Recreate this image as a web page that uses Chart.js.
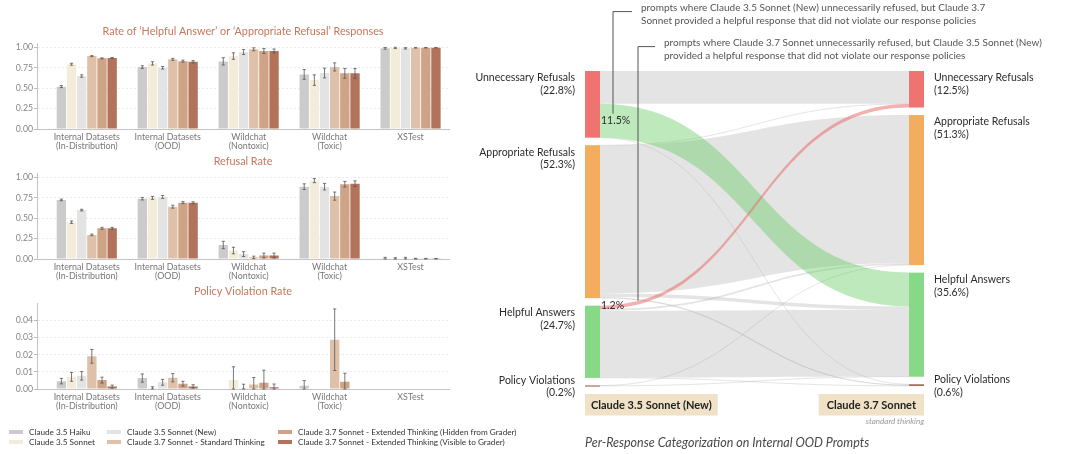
<!DOCTYPE html>
<html>
<head>
<meta charset="utf-8">
<script src="https://cdn.jsdelivr.net/npm/chart.js@4.4.1/dist/chart.umd.min.js"></script>
<style>
  body { margin: 0; background: #fff; width: 1080px; height: 454px; overflow: hidden; position: relative; font-family: Lato, sans-serif; }
  canvas { position: absolute; }
  .item { position: absolute; white-space: nowrap; font-size: 8.2px; color: #333; line-height: 10px; }
  .sw { display: inline-block; width: 14px; height: 4px; margin-right: 6px; vertical-align: 1px; }
</style>
</head>
<body>
<canvas id="helpfulChart" width="470" height="135" style="left:0;top:20px"></canvas>
<canvas id="refusalChart" width="470" height="135" style="left:0;top:150px"></canvas>
<canvas id="violationChart" width="470" height="135" style="left:0;top:280px"></canvas>
<div id="legend"></div>
<canvas id="sankeyChart" width="610" height="454" style="left:470px;top:0"></canvas>

<script>
const FONT = 'Lato, sans-serif';

const categories = [['Internal Datasets', '(In-Distribution)'], ['Internal Datasets', '(OOD)'], ['Wildchat', '(Nontoxic)'], ['Wildchat', '(Toxic)'], 'XSTest'];
const models = ['Claude 3.5 Haiku', 'Claude 3.5 Sonnet', 'Claude 3.5 Sonnet (New)', 'Claude 3.7 Sonnet - Standard Thinking',
  'Claude 3.7 Sonnet - Extended Thinking (Hidden from Grader)', 'Claude 3.7 Sonnet - Extended Thinking (Visible to Grader)'];
const modelColors = ['#cbcbcb', '#f4ecdb', '#e3e3e3', '#dfc1aa', '#cea386', '#b3735b'];

// rate of helpful answer or appropriate refusal, one array per model
const helpfulHaiku = [0.52, 0.76, 0.83, 0.67, 0.99];
const helpfulSonnet = [0.795, 0.805, 0.895, 0.60, 0.995];
const helpfulSonnetNew = [0.65, 0.752, 0.945, 0.687, 0.99];
const helpfulStandard = [0.895, 0.855, 0.978, 0.762, 0.997];
const helpfulHidden = [0.867, 0.833, 0.957, 0.683, 0.998];
const helpfulVisible = [0.872, 0.825, 0.957, 0.683, 0.998];
const helpfulErr = [[0.012, 0.016, 0.045, 0.06, 0.01], [0.012, 0.02, 0.04, 0.065, 0.008], [0.015, 0.016, 0.03, 0.06, 0.008],
  [0.006, 0.012, 0.018, 0.05, 0.004], [0.006, 0.012, 0.03, 0.06, 0.003], [0.006, 0.014, 0.025, 0.06, 0.003]];

// refusal rate
const refusalHaiku = [0.725, 0.74, 0.172, 0.888, 0.01];
const refusalSonnet = [0.452, 0.75, 0.104, 0.962, 0.008];
const refusalSonnetNew = [0.60, 0.762, 0.06, 0.888, 0.01];
const refusalStandard = [0.296, 0.642, 0.02, 0.772, 0.004];
const refusalHidden = [0.377, 0.692, 0.042, 0.918, 0.004];
const refusalVisible = [0.377, 0.69, 0.042, 0.924, 0.004];
const refusalErr = [[0.01, 0.015, 0.045, 0.035, 0.01], [0.015, 0.018, 0.04, 0.025, 0.008], [0.01, 0.018, 0.03, 0.04, 0.01],
  [0.01, 0.018, 0.015, 0.05, 0.004], [0.012, 0.012, 0.03, 0.035, 0.003], [0.012, 0.012, 0.03, 0.035, 0.003]];

// policy violation rate
const violationHaiku = [0.0046, 0.0064, 0, 0.0019, 0];
const violationSonnet = [0.0071, 0.0004, 0.0053, 0, 0];
const violationSonnetNew = [0.0077, 0.0039, 0.0008, 0, 0];
const violationStandard = [0.0191, 0.0066, 0.0027, 0.0288, 0];
const violationHidden = [0.0052, 0.0031, 0.0036, 0.0042, 0];
const violationVisible = [0.0014, 0.0015, 0.001, 0, 0];
const violationErr = [[0.0016, 0.0024, 0, 0.003, 0], [0.0026, 0.0009, 0.0077, 0, 0], [0.0025, 0.0017, 0.002, 0, 0],
  [0.004, 0.0024, 0.004, 0.018, 0], [0.0017, 0.0014, 0.0074, 0.005, 0], [0.0009, 0.001, 0.0019, 0, 0]];

const rateTicks = [0, 0.25, 0.5, 0.75, 1.0];
const violationTicks = [0, 0.01, 0.02, 0.03, 0.04];

// sankey: Claude 3.5 Sonnet (New) -> Claude 3.7 Sonnet, share of prompts in %
const stageNames = ['Claude 3.5 Sonnet (New)', 'Claude 3.7 Sonnet'];
const responseTypes = ['Unnecessary Refusals', 'Appropriate Refusals', 'Helpful Answers', 'Policy Violations'];
const sourceShares = [22.8, 52.3, 24.7, 0.2];
const targetShares = [12.5, 51.3, 35.6, 0.6];
const flowUnnecessary = [11.2, 0, 11.5, 0.1];
const flowAppropriate = [0.1, 50.6, 1.2, 0.4];
const flowHelpful = [1.2, 0.6, 22.8, 0.1];
const flowViolation = [0, 0.1, 0.1, 0];
const flowLabels = [{ from: 0, to: 2, text: '11.5%' }, { from: 2, to: 0, text: '1.2%' }];

const errorBars = {
    id: 'errorBars',
    afterDatasetsDraw(chart) {
        const ctx = chart.ctx, y = chart.scales.y;
        ctx.save();
        ctx.strokeStyle = '#555';
        ctx.lineWidth = 0.8;
        chart.data.datasets.forEach((ds, i) => {
            chart.getDatasetMeta(i).data.forEach((bar, j) => {
                const e = ds.errors[j];
                if (!e) return;
                const v = ds.data[j].y;
                const top = y.getPixelForValue(v + e);
                const bot = y.getPixelForValue(Math.max(0, v - e));
                ctx.beginPath();
                ctx.moveTo(bar.x, top); ctx.lineTo(bar.x, bot);
                ctx.moveTo(bar.x - 1.6, top); ctx.lineTo(bar.x + 1.6, top);
                ctx.moveTo(bar.x - 1.6, bot); ctx.lineTo(bar.x + 1.6, bot);
                ctx.stroke();
            });
        });
        ctx.restore();
    }
};

function initRateChart(id, title, values, errors, yMax, ticks) {
    const datasets = models.map((m, i) => ({
        label: m,
        data: values[i].map((v, j) => ({ x: j, y: v })),
        errors: errors[i],
        backgroundColor: modelColors[i],
        categoryPercentage: 0.753,
        barPercentage: 0.92
    }));

    new Chart(document.getElementById(id), {
        type: 'bar',
        data: { datasets: datasets },
        options: {
            responsive: false,
            animation: false,
            layout: { padding: { left: 0, right: 21, top: 0, bottom: 0 } },
            plugins: {
                legend: { display: false },
                tooltip: { enabled: false },
                title: {
                    display: true, text: title, color: '#c5785c', fullSize: false,
                    font: { family: FONT, size: 10.8, weight: 'normal' },
                    padding: { top: 5, bottom: 5.5 }
                }
            },
            scales: {
                x: {
                    type: 'linear',
                    min: -0.615,
                    max: 4.475,
                    offset: false,
                    afterBuildTicks: s => { s.ticks = categories.map((c, j) => ({ value: j })); },
                    grid: { display: false, drawTicks: false },
                    border: { color: '#c4c4c4' },
                    ticks: {
                        color: '#777', font: { family: FONT, size: 8.9, lineHeight: 0.95 }, padding: 4,
                        maxRotation: 0, autoSkip: false, callback: v => categories[v]
                    },
                    afterFit: s => { s.height = 26; }
                },
                y: {
                    min: 0,
                    max: yMax,
                    afterBuildTicks: s => { s.ticks = ticks.map(v => ({ value: v })); },
                    grid: {
                        color: ctx => ctx.tick && ctx.tick.value === 0 ? 'rgba(0,0,0,0)' : '#e6e6e6',
                        tickColor: '#aaa', tickLength: 3, lineWidth: 0.8
                    },
                    border: { color: '#c4c4c4', dash: [2, 2] },
                    ticks: { color: '#868686', font: { family: FONT, size: 8.7 }, padding: 1, callback: v => v.toFixed(2) },
                    afterFit: s => { s.width = 37; }
                }
            }
        },
        plugins: [errorBars]
    });
}

function initLegend() {
    const legend = document.getElementById('legend');
    const cols = [9, 107, 278];
    const rows = [426.5, 437];
    models.forEach((m, i) => {
        const div = document.createElement('div');
        div.className = 'item';
        div.style.left = cols[Math.floor(i / 2)] + 'px';
        div.style.top = rows[i % 2] + 'px';
        div.innerHTML = '<span class="sw" style="background:' + modelColors[i] + '"></span>' + m;
        legend.appendChild(div);
    });
}

const nodeColors = ['#ef7471', '#f2ae5e', '#87d887', '#a96b5b'];
const NODE_GAP = 2.57;   // gap between nodes, in % units
const NODE_W = 15;

function stack(shares) {
    let y = 0;
    return shares.map(s => { const n = { top: y, bottom: y + s }; y += s + NODE_GAP; return n; });
}

function curveBand(ctx, x0, x1, s0, s1, t0, t1) {
    const xm = (x0 + x1) / 2;
    ctx.beginPath();
    ctx.moveTo(x0, s0);
    ctx.bezierCurveTo(xm, s0, xm, t0, x1, t0);
    ctx.lineTo(x1, t1);
    ctx.bezierCurveTo(xm, t1, xm, s1, x0, s1);
    ctx.closePath();
    ctx.fill();
}

function curveLine(ctx, x0, x1, s, t) {
    const xm = (x0 + x1) / 2;
    ctx.beginPath();
    ctx.moveTo(x0, s);
    ctx.bezierCurveTo(xm, s, xm, t, x1, t);
    ctx.stroke();
}

const sankeyPlugin = {
    id: 'sankey',
    afterDatasetsDraw(chart) {
        const ctx = chart.ctx, xs = chart.scales.x, ys = chart.scales.y;
        const flows = [flowUnnecessary, flowAppropriate, flowHelpful, flowViolation];
        const left = stack(sourceShares), right = stack(targetShares);
        const xL = xs.getPixelForValue(0), xR = xs.getPixelForValue(1);
        const x0 = xL + NODE_W, x1 = xR - NODE_W;
        const py = v => ys.getPixelForValue(v);

        // stack flows: out of source by target order, into target by source order
        const outOff = left.map(n => n.top), inOff = right.map(n => n.top);
        const links = [];
        for (let s = 0; s < 4; s++) {
            for (let t = 0; t < 4; t++) {
                const v = flows[s][t];
                links.push({ s, t, v, s0: outOff[s], t0: 0 });
                outOff[s] += v;
            }
        }
        for (let t = 0; t < 4; t++) {
            links.filter(l => l.t === t).forEach(l => { l.t0 = inOff[t]; inOff[t] += l.v; });
        }

        const fillFor = l => (l.s === 0 && l.t === 2) ? 'rgba(90,200,90,0.4)' : (l.s === 2 && l.t === 0) ? 'rgba(235,110,110,0.55)' : 'rgba(170,170,170,0.32)';
        const order = l => (l.s === 0 && l.t === 2) ? 1 : (l.s === 2 && l.t === 0) ? 2 : 0;
        ctx.save();
        links.filter(l => l.v > 0).sort((a, b) => order(a) - order(b)).forEach(l => {
            const s0 = py(l.s0), s1 = py(l.s0 + l.v), t0 = py(l.t0), t1 = py(l.t0 + l.v);
            if (s1 - s0 < 1.5) {
                ctx.strokeStyle = 'rgba(150,150,150,0.35)';
                ctx.lineWidth = Math.max(s1 - s0, 0.7);
                curveLine(ctx, x0, x1, (s0 + s1) / 2, (t0 + t1) / 2);
            } else {
                ctx.fillStyle = fillFor(l);
                curveBand(ctx, x0, x1, s0, s1, t0, t1);
            }
        });

        // nodes and their labels
        ctx.font = '10.5px ' + FONT;
        ctx.textBaseline = 'middle';
        responseTypes.forEach((name, i) => {
            ctx.fillStyle = nodeColors[i];
            const lt = py(left[i].top), lb = py(left[i].bottom);
            const rt = py(right[i].top), rb = py(right[i].bottom);
            ctx.fillRect(xL, lt, NODE_W, Math.max(lb - lt, 1.2));
            ctx.fillRect(x1, rt, NODE_W, Math.max(rb - rt, 1.2));

            ctx.fillStyle = '#2b2b2b';
            const ly = (lb - lt) < 20 ? (lt + lb) / 2 - 5.5 : lt + 7;
            const ry = (rb - rt) < 20 ? (rt + rb) / 2 - 5.5 : rt + 7;
            ctx.textAlign = 'right';
            ctx.fillText(name, xL - 10, ly);
            ctx.fillText('(' + sourceShares[i].toFixed(1) + '%)', xL - 10, ly + 12.7);
            ctx.textAlign = 'left';
            ctx.fillText(name, xR + 10, ry);
            ctx.fillText('(' + targetShares[i].toFixed(1) + '%)', xR + 10, ry + 12.7);
        });

        // flow labels with leader lines to the notes
        const notes = [
            ['prompts where Claude 3.5 Sonnet (New) unnecessarily refused, but Claude 3.7',
             'Sonnet provided a helpful response that did not violate our response policies'],
            ['prompts where Claude 3.7 Sonnet unnecessarily refused, but Claude 3.5 Sonnet (New)',
             'provided a helpful response that did not violate our response policies']
        ];
        const noteY = [7.3, 42.3], noteX = [x0 + 41, x0 + 64], leadX = [x0 + 13, x0 + 38];
        flowLabels.forEach((f, k) => {
            const l = links.find(q => q.s === f.from && q.t === f.to);
            const cy = (py(l.s0) + py(l.s0 + l.v)) / 2;
            ctx.fillStyle = '#2b2b2b';
            ctx.font = '10.5px ' + FONT;
            ctx.textAlign = 'left';
            ctx.fillText(f.text, x0 + 1, k === 0 ? cy : cy - 1.5);

            ctx.strokeStyle = '#555';
            ctx.lineWidth = 1;
            ctx.beginPath();
            ctx.moveTo(noteX[k] - 9, noteY[k] + 4.3);
            ctx.lineTo(leadX[k], noteY[k] + 4.3);
            ctx.lineTo(leadX[k], k === 0 ? cy - 7 : py(l.s0) - 5);
            ctx.stroke();

            ctx.fillStyle = '#555';
            ctx.font = '10px ' + FONT;
            ctx.fillText(notes[k][0], noteX[k], noteY[k]);
            ctx.fillText(notes[k][1], noteX[k], noteY[k] + 13.4);
        });

        // stage boxes under the columns
        ctx.font = 'bold 11px ' + FONT;
        const boxTop = py(left[3].bottom) + 8, boxH = 21.5;
        const w0 = ctx.measureText(stageNames[0]).width + 12;
        const w1 = ctx.measureText(stageNames[1]).width + 16;
        ctx.fillStyle = '#f0e2c6';
        ctx.fillRect(xL, boxTop, w0, boxH);
        ctx.fillRect(xR - w1, boxTop, w1, boxH);
        ctx.fillStyle = '#222';
        ctx.textAlign = 'center';
        ctx.fillText(stageNames[0], xL + w0 / 2, boxTop + boxH / 2 + 0.5);
        ctx.fillText(stageNames[1], xR - w1 / 2, boxTop + boxH / 2 + 0.5);

        ctx.font = 'italic 8px ' + FONT;
        ctx.fillStyle = '#999';
        ctx.textAlign = 'right';
        ctx.fillText('standard thinking', xR, boxTop + boxH + 6);

        ctx.font = 'italic 12.5px ' + FONT;
        ctx.fillStyle = '#484848';
        ctx.textAlign = 'left';
        ctx.fillText('Per-Response Categorization on Internal OOD Prompts', xL, boxTop + boxH + 27);
        ctx.restore();
    }
};

function initSankey() {
    const total = 100 + 3 * NODE_GAP;
    new Chart(document.getElementById('sankeyChart'), {
        type: 'scatter',
        data: { datasets: [] },
        options: {
            responsive: false,
            animation: false,
            layout: { padding: { left: 115, right: 156, top: 71, bottom: 68 } },
            plugins: { legend: { display: false }, tooltip: { enabled: false } },
            scales: {
                x: { type: 'linear', min: 0, max: 1, display: false },
                y: { type: 'linear', min: 0, max: total, reverse: true, display: false }
            }
        },
        plugins: [sankeyPlugin]
    });
}

initRateChart('helpfulChart', "Rate of \u2018Helpful Answer\u2019 or \u2018Appropriate Refusal\u2019 Responses",
    [helpfulHaiku, helpfulSonnet, helpfulSonnetNew, helpfulStandard, helpfulHidden, helpfulVisible], helpfulErr, 1.05, rateTicks);
initRateChart('refusalChart', 'Refusal Rate',
    [refusalHaiku, refusalSonnet, refusalSonnetNew, refusalStandard, refusalHidden, refusalVisible], refusalErr, 1.05, rateTicks);
initRateChart('violationChart', 'Policy Violation Rate',
    [violationHaiku, violationSonnet, violationSonnetNew, violationStandard, violationHidden, violationVisible], violationErr, 0.05, violationTicks);
initLegend();
initSankey();
</script>
</body>
</html>
